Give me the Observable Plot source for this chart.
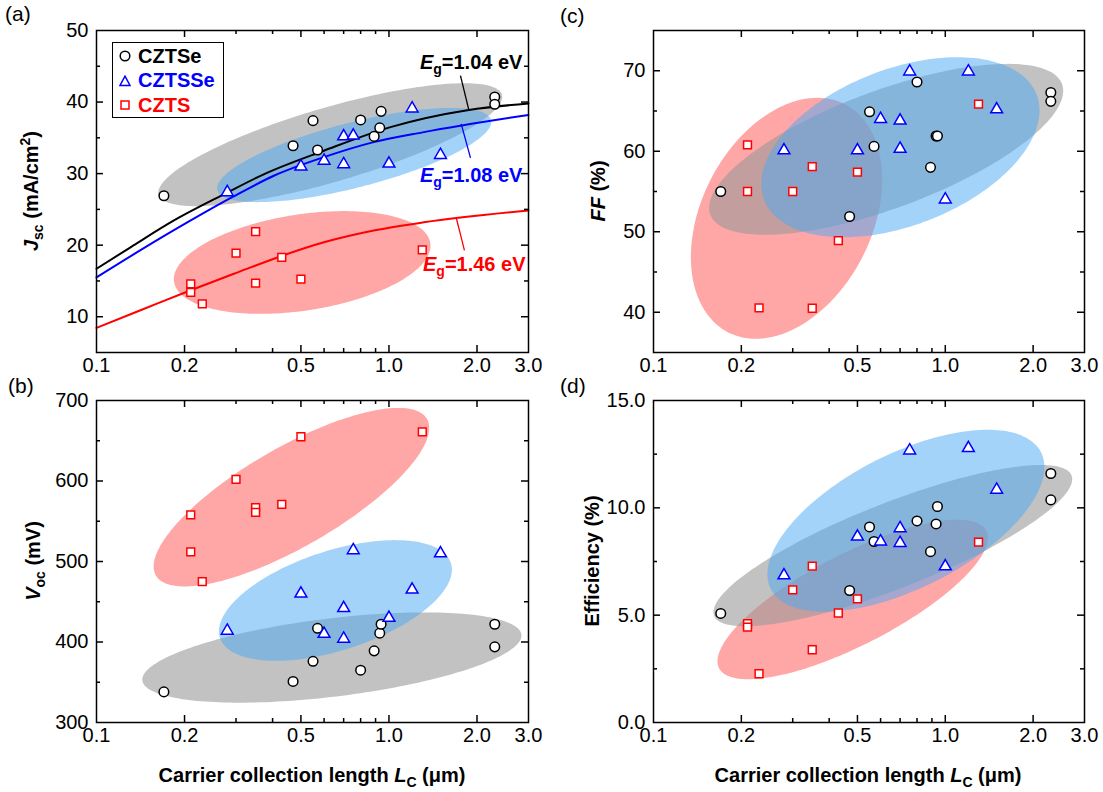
<!DOCTYPE html>
<html><head><meta charset="utf-8">
<script src="https://cdn.jsdelivr.net/npm/d3@7"></script>
<script src="https://cdn.jsdelivr.net/npm/@observablehq/plot@0.6"></script>
<style>
body{margin:0;background:#fff;font-family:Arial,"Liberation Sans",sans-serif;}
#wrap{position:relative;width:1103px;height:792px;overflow:hidden;background:#fff;}
.p{position:absolute;}
.ylab{position:absolute;font-weight:bold;font-size:20px;white-space:nowrap;transform:translate(-50%,-50%) rotate(-90deg);color:#000;}
.xlab{position:absolute;font-weight:bold;font-size:20px;white-space:nowrap;transform:translate(-50%,-50%);color:#000;}
.plab{position:absolute;font-size:21px;color:#000;}
sub,sup{font-size:70%;line-height:0;}
#legend{position:absolute;left:112px;top:42px;width:110px;height:74px;border:1.5px solid #000;background:#fff;}
#legend .row{position:absolute;left:0;height:24px;display:flex;align-items:center;font-weight:bold;font-size:20px;}
#legend svg{margin-left:6px;margin-right:7px;}
</style></head><body><div id="wrap"></div>
<script>
// ---------- data ----------
const xTickLabels = [0.1, 0.2, 0.5, 1.0, 2.0, 3.0];
const xMajorTicks = [0.2, 0.5, 1.0, 2.0];
const xMinorTicks = [0.3, 0.4, 0.6, 0.7, 0.8, 0.9];
const groups = ["CZTSe", "CZTSSe", "CZTS"];

const lcCZTSe  = [0.17, 0.47, 0.55, 0.57, 0.80, 0.89, 0.93, 0.94, 2.30, 2.30];
const jscCZTSe = [26.9, 33.9, 37.4, 33.3, 37.5, 35.2, 36.4, 38.7, 40.7, 39.7];
const vocCZTSe = [338, 351, 376, 417, 365, 389, 411, 422, 422, 394];
const ffCZTSe  = [55.0, 51.9, 64.9, 60.6, 68.6, 58.0, 61.9, 61.9, 67.3, 66.2];
const effCZTSe = [5.08, 6.15, 9.11, 8.43, 9.39, 7.96, 9.25, 10.06, 11.6, 10.37];

const lcCZTSSe  = [0.28, 0.50, 0.60, 0.70, 0.70, 0.755, 1.0, 1.2, 1.5];
const jscCZTSSe = [27.4, 31.0, 31.8, 35.2, 31.3, 35.3, 31.4, 39.1, 32.6];
const vocCZTSSe = [414, 460, 410, 404, 442, 514, 430, 465, 510];
const ffCZTSSe  = [60.1, 60.1, 64.0, 63.8, 60.3, 69.9, 54.0, 69.9, 65.2];
const effCZTSSe = [6.85, 8.66, 8.43, 9.05, 8.36, 12.67, 7.27, 12.78, 10.84];

const lcCZTS  = [0.21, 0.21, 0.23, 0.30, 0.35, 0.35, 0.43, 0.50, 1.30];
const jscCZTS = [14.6, 13.4, 11.8, 18.9, 21.9, 14.7, 18.3, 15.25, 19.35];
const vocCZTS = [558, 512, 475, 602, 567, 561, 571, 655, 661];
const ffCZTS  = [55.0, 60.8, 40.55, 55.0, 58.1, 40.5, 48.9, 57.4, 65.85];
const effCZTS = [4.6, 4.44, 2.27, 6.18, 7.28, 3.39, 5.1, 5.76, 8.4];

// model curves J_sc(L_C) for three band gaps
const curveLabels = ["Eg=1.04 eV", "Eg=1.08 eV", "Eg=1.46 eV"];
const curveLc104 = [0.1, 0.1307, 0.184, 0.2725, 0.373, 0.599, 1.012, 1.875, 3.0];
const curveJ104  = [16.7, 19.7, 23.45, 27.1, 29.9, 33.2, 36.5, 38.9, 39.8];
const curveLc108 = [0.1, 0.1414, 0.21, 0.291, 0.404, 0.599, 0.887, 1.316, 3.0];
const curveJ108  = [15.5, 19.3, 23.45, 26.7, 29.7, 32.3, 34.4, 35.8, 38.2];
const curveLc146 = [0.1, 0.1414, 0.21, 0.295, 0.437, 0.599, 0.887, 1.316, 3.0];
const curveJ146  = [8.45, 10.9, 13.7, 16.0, 18.6, 20.4, 22.05, 23.2, 24.85];
// label anchor (x, y) and pointer line (x1, y1, x2, y2)
const labelLc  = [2.86, 2.86, 2.93];
const labelJ   = [45.5, 29.7, 17.3];
const pointerLc1 = [1.756, 1.766, 1.702];
const pointerJ1  = [43.7, 36.96, 23.69];
const pointerLc2 = [1.875, 1.90, 1.812];
const pointerJ2  = [38.92, 32.21, 19.26];

// shaded ellipses: [centerX, centerY, majorEndX, majorEndY, minorEndX, minorEndY], order CZTSe, CZTSSe, CZTS
const ellJsc = [[0.630, 34.04, 2.433, 41.03, 0.683, 29.05], [0.7605, 32.6, 2.233, 37.5, 0.8106, 28.2], [0.505, 17.58, 1.385, 20.29, 0.5345, 10.93]];
const ellVoc = [[0.638, 380.7, 2.837, 409.2, 0.6615, 332.4], [0.656, 451.6, 1.628, 498.1, 0.741, 392.8], [0.464, 579.9, 1.349, 677.1, 0.564, 526.5]];
const ellFF  = [[0.6271, 60.24, 2.512, 68.35, 0.737, 53.39], [0.7018, 60.5, 2.056, 67.04, 0.8766, 51.43], [0.2857, 51.67, 0.4527, 65.84, 0.5197, 46.84]];
const ellEff = [[0.661, 8.24, 2.708, 11.51, 0.748, 6.39], [0.733, 9.40, 2.13, 12.58, 0.930, 6.60], [0.4815, 5.73, 1.382, 8.93, 0.567, 3.84]];

// ---------- styles ----------
const FONT = "Arial, 'Liberation Sans', sans-serif";
const groupStroke = {CZTSe: "#000000", CZTSSe: "#0000ff", CZTS: "#ff0000"};
const groupSymbol = {CZTSe: "circle", CZTSSe: "triangle", CZTS: "square"};
const groupR = {CZTSe: 4.8, CZTSSe: 4.4, CZTS: 4.4};
const ellFill = {CZTSe: "#999999", CZTSSe: "#4aa8f5", CZTS: "#ff0000"};
const ellOpacity = {CZTSe: 0.6, CZTSSe: 0.5, CZTS: 0.35};
const drawOrder = [2, 0, 1];

function ellipsePts(e) {
  const [cx, cy, mx, my, nx, ny] = e;
  const lc = Math.log10(cx), lm = Math.log10(mx) - lc, ln = Math.log10(nx) - lc;
  const pts = [];
  for (let i = 0; i <= 200; i++) {
    const t = i / 200 * 2 * Math.PI;
    pts.push({x: 10 ** (lc + lm * Math.cos(t) + ln * Math.sin(t)), y: cy + (my - cy) * Math.cos(t) + (ny - cy) * Math.sin(t)});
  }
  return pts;
}

function panel(o) {
  const fw = o.width - o.ml - o.mr, fh = o.height - o.mt - o.mb;
  const MAJ = 7, MIN = 4;
  const marks = [];
  for (const gi of drawOrder) {
    const g = groups[gi];
    marks.push(Plot.line(ellipsePts(o.ells[gi]), {x: "x", y: "y", fill: ellFill[g], fillOpacity: ellOpacity[g], stroke: "none", clip: true}));
  }
  if (o.extra) marks.push(...o.extra);
  // ticks (inward) on all four sides
  const tk = {stroke: "black", strokeWidth: 1.5};
  marks.push(
    Plot.tickX(xMajorTicks, {x: d => d, insetTop: fh - MAJ, ...tk}),
    Plot.tickX(xMajorTicks, {x: d => d, insetBottom: fh - MAJ, ...tk}),
    Plot.tickX(xMinorTicks, {x: d => d, insetTop: fh - MIN, ...tk}),
    Plot.tickX(xMinorTicks, {x: d => d, insetBottom: fh - MIN, ...tk}),
    Plot.tickY(o.yMajor, {y: d => d, insetRight: fw - MAJ, ...tk}),
    Plot.tickY(o.yMajor, {y: d => d, insetLeft: fw - MAJ, ...tk}),
    Plot.tickY(o.yMinor, {y: d => d, insetRight: fw - MIN, ...tk}),
    Plot.tickY(o.yMinor, {y: d => d, insetLeft: fw - MIN, ...tk}),
    Plot.axisX({ticks: xTickLabels, tickSize: 0, tickPadding: 5, tickFormat: d3.format(".1f"), label: null}),
    Plot.axisY({ticks: o.yLabels, tickSize: 0, tickPadding: 8, tickFormat: o.yFmt, label: null})
  );
  o.series.forEach((s, gi) => {
    const g = groups[gi];
    marks.push(Plot.dot(d3.range(s.x.length), {x: i => s.x[i], y: i => s.y[i], symbol: groupSymbol[g], r: groupR[g], stroke: groupStroke[g], fill: "white", strokeWidth: 1.5}));
  });
  marks.push(Plot.frame({stroke: "black", strokeWidth: 1.5}));
  const svg = Plot.plot({
    width: o.width, height: o.height, marginLeft: o.ml, marginRight: o.mr, marginTop: o.mt, marginBottom: o.mb,
    x: {type: "log", domain: [0.1, 3.0]},
    y: {domain: o.yDomain},
    style: {fontFamily: FONT, fontSize: "20px", color: "black", background: "none", overflow: "visible"},
    marks
  });
  svg.classList.add("p");
  svg.style.left = o.left + "px";
  svg.style.top = o.top + "px";
  return svg;
}

const curves = [
  {x: curveLc104, y: curveJ104, c: "#000000"},
  {x: curveLc108, y: curveJ108, c: "#0000ff"},
  {x: curveLc146, y: curveJ146, c: "#ff0000"}
];
const extraA = [];
curves.forEach((cv, k) => {
  extraA.push(Plot.line(d3.range(cv.x.length), {x: i => cv.x[i], y: i => cv.y[i], stroke: cv.c, strokeWidth: 2, curve: "monotone-x"}));
  extraA.push(Plot.link([k], {x1: i => pointerLc1[i], y1: i => pointerJ1[i], x2: i => pointerLc2[i], y2: i => pointerJ2[i], stroke: cv.c, strokeWidth: 1.3}));
  extraA.push(Plot.text([k], {x: i => labelLc[i], y: i => labelJ[i], text: i => curveLabels[i], fill: cv.c, textAnchor: "end", fontWeight: "bold", fontSize: 20}));
});

const wrap = document.getElementById("wrap");
const sA = panel({left: 0, top: 0, width: 551, height: 385, ml: 96, mr: 23, mt: 30, mb: 33,
  yDomain: [5, 50], yLabels: [10, 20, 30, 40, 50], yMajor: [10, 20, 30, 40], yMinor: [15, 25, 35, 45], yFmt: d3.format("d"),
  ells: ellJsc, extra: extraA,
  series: [{x: lcCZTSe, y: jscCZTSe}, {x: lcCZTSSe, y: jscCZTSSe}, {x: lcCZTS, y: jscCZTS}]});
const sB = panel({left: 0, top: 385, width: 551, height: 407, ml: 96, mr: 23, mt: 15, mb: 70,
  yDomain: [300, 700], yLabels: [300, 400, 500, 600, 700], yMajor: [400, 500, 600], yMinor: [350, 450, 550, 650], yFmt: d3.format("d"),
  ells: ellVoc,
  series: [{x: lcCZTSe, y: vocCZTSe}, {x: lcCZTSSe, y: vocCZTSSe}, {x: lcCZTS, y: vocCZTS}]});
const sC = panel({left: 551, top: 0, width: 552, height: 385, ml: 102, mr: 19, mt: 30, mb: 33,
  yDomain: [35, 75], yLabels: [40, 50, 60, 70], yMajor: [40, 50, 60, 70], yMinor: [45, 55, 65], yFmt: d3.format("d"),
  ells: ellFF,
  series: [{x: lcCZTSe, y: ffCZTSe}, {x: lcCZTSSe, y: ffCZTSSe}, {x: lcCZTS, y: ffCZTS}]});
const sD = panel({left: 551, top: 385, width: 552, height: 407, ml: 102, mr: 19, mt: 15, mb: 70,
  yDomain: [0, 15], yLabels: [0, 5, 10, 15], yMajor: [5, 10], yMinor: [2.5, 7.5, 12.5], yFmt: d3.format(".1f"),
  ells: ellEff,
  series: [{x: lcCZTSe, y: effCZTSe}, {x: lcCZTSSe, y: effCZTSSe}, {x: lcCZTS, y: effCZTS}]});
[sA, sB, sC, sD].forEach(s => wrap.appendChild(s));

// rich text for the E_g annotations
d3.select(sA).selectAll("text").each(function () {
  const t = this.textContent;
  if (curveLabels.includes(t)) {
    const el = d3.select(this);
    el.text(null);
    el.append("tspan").attr("font-style", "italic").text("E");
    el.append("tspan").attr("font-size", 14).attr("dy", 5).text(t.slice(1, 2));
    el.append("tspan").attr("dy", -5).text(t.slice(2));
  }
});

// HTML text overlays
function add(html, cls, x, y) {
  const d = document.createElement("div");
  d.className = cls; d.innerHTML = html;
  d.style.left = x + "px"; d.style.top = y + "px";
  wrap.appendChild(d);
}
add("(a)", "plab", 5, 2);
add("(b)", "plab", 8, 374);
add("(c)", "plab", 560, 4);
add("(d)", "plab", 560, 374);
add("<i>J</i><sub>sc</sub> (mA/cm<sup>2</sup>)", "ylab", 31, 191);
add("<i>V</i><sub>oc</sub> (mV)", "ylab", 33, 561);
add("<i>FF</i> (%)", "ylab", 598, 191);
add("Efficiency (%)", "ylab", 592, 561);
add("Carrier collection length <i>L</i><sub>C</sub> (\u03bcm)", "xlab", 312, 775);
add("Carrier collection length <i>L</i><sub>C</sub> (\u03bcm)", "xlab", 868, 775);

// legend
const lg = document.createElement("div");
lg.id = "legend";
const symSvg = {
  CZTSe: '<svg width="12" height="12"><circle cx="6" cy="6" r="4.8" fill="white" stroke="#000" stroke-width="1.5"/></svg>',
  CZTSSe: '<svg width="12" height="12"><path d="M6,1.2L11,10.5L1,10.5Z" fill="white" stroke="#0000ff" stroke-width="1.5"/></svg>',
  CZTS: '<svg width="12" height="12"><rect x="2" y="2" width="8" height="8" fill="white" stroke="#ff0000" stroke-width="1.5"/></svg>'
};
groups.forEach((g, i) => {
  const r = document.createElement("div");
  r.className = "row";
  r.style.top = (1 + i * 24.5) + "px";
  r.style.color = groupStroke[g];
  r.innerHTML = symSvg[g] + "<span>" + g + "</span>";
  lg.appendChild(r);
});
wrap.appendChild(lg);
</script>
</body></html>
